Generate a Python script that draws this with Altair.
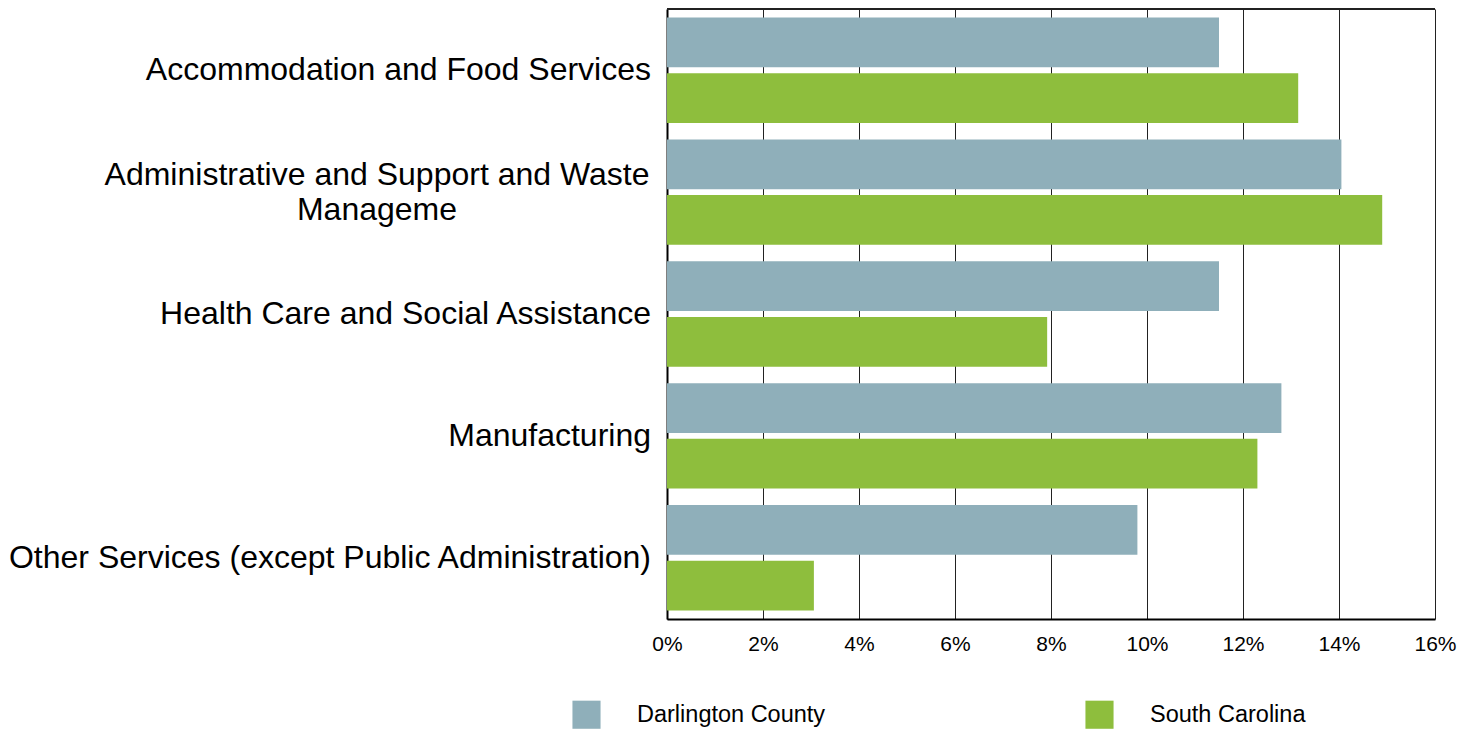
import altair as alt
import pandas as pd

categories = [
    "Accommodation and Food Services",
    "Administrative and Support and Waste Manageme",
    "Health Care and Social Assistance",
    "Manufacturing",
    "Other Services (except Public Administration)",
]
label_lines = [
    ["Accommodation and Food Services"],
    ["Administrative and Support and Waste", "Manageme"],
    ["Health Care and Social Assistance"],
    ["Manufacturing"],
    ["Other Services (except Public Administration)"],
]
series = ["Darlington County", "South Carolina"]
darlington = [11.5, 14.05, 11.5, 12.8, 9.8]
south_carolina = [13.15, 14.9, 7.92, 12.3, 3.06]
colors = ["#8FAFBA", "#8EBE3D"]
x_ticks = [0, 2, 4, 6, 8, 10, 12, 14, 16]

rows = []
for c, d, s in zip(categories, darlington, south_carolina):
    rows.append({"category": c, "series": series[0], "value": d})
    rows.append({"category": c, "series": series[1], "value": s})
df = pd.DataFrame(rows)

lab = pd.DataFrame({
    "category": categories,
    "text": [l if len(l) > 1 else l[0] for l in label_lines],
    "multi": [len(l) > 1 for l in label_lines],
})

yscale = alt.Scale(domain=categories, paddingInner=0.135, paddingOuter=0.07)

bars = alt.Chart(df).mark_bar().encode(
    x=alt.X("value:Q",
            scale=alt.Scale(domain=[0, 16], nice=False),
            axis=alt.Axis(values=x_ticks, labelExpr="datum.value + '%'", title=None,
                          grid=True, gridColor="#222222", gridWidth=1, ticks=False,
                          domainColor="#000000", domainWidth=2, labelFontSize=21,
                          labelFont="Liberation Sans", labelColor="#000000",
                          labelPadding=14, labelFlush=False, labelOverlap=False)),
    y=alt.Y("category:N", scale=yscale, sort=categories,
            axis=alt.Axis(labels=False, ticks=False, title=None, grid=False,
                          domainColor="#000000", domainWidth=2)),
    yOffset=alt.YOffset("series:N", sort=series,
                        scale=alt.Scale(domain=series, paddingInner=0.107, paddingOuter=0)),
    color=alt.Color("series:N", sort=series,
                    scale=alt.Scale(domain=series, range=colors),
                    legend=alt.Legend(title=None, orient="none", direction="horizontal",
                                      legendX=-95, legendY=691, padding=0,
                                      symbolType="square", symbolSize=790,
                                      symbolStrokeWidth=0, symbolOpacity=1,
                                      labelFontSize=23.5, labelFont="Liberation Sans",
                                      labelColor="#000000", labelOffset=36,
                                      labelLimit=0, columnPadding=259)),
)

single = alt.Chart(lab).transform_filter("!datum.multi").mark_text(
    align="right", baseline="middle", fontSize=32, font="Liberation Sans", color="#000000"
).encode(
    y=alt.Y("category:N", scale=yscale, sort=categories),
    x=alt.value(-16),
    text="text:N",
)

multi = alt.Chart(lab).transform_filter("datum.multi").mark_text(
    align="center", baseline="middle", fontSize=32, font="Liberation Sans", color="#000000",
    lineHeight=35, dy=-17
).encode(
    y=alt.Y("category:N", scale=yscale, sort=categories),
    x=alt.value(-290),
    text="text:N",
)

top_border = alt.Chart(lab).mark_rule(color="#222222", strokeWidth=1.5).encode(
    x=alt.value(0), x2=alt.value(768), y=alt.value(0)
)

chart = alt.layer(bars, single, multi, top_border).properties(
    width=768, height=610,
    autosize=alt.AutoSizeParams(type="none"),
    padding={"left": 659, "top": 1, "right": 30, "bottom": 110},
).configure_view(stroke="#222222", strokeWidth=1.5).configure(background="white")

chart.save("out.html", embed_options={"renderer": "svg", "actions": False})
